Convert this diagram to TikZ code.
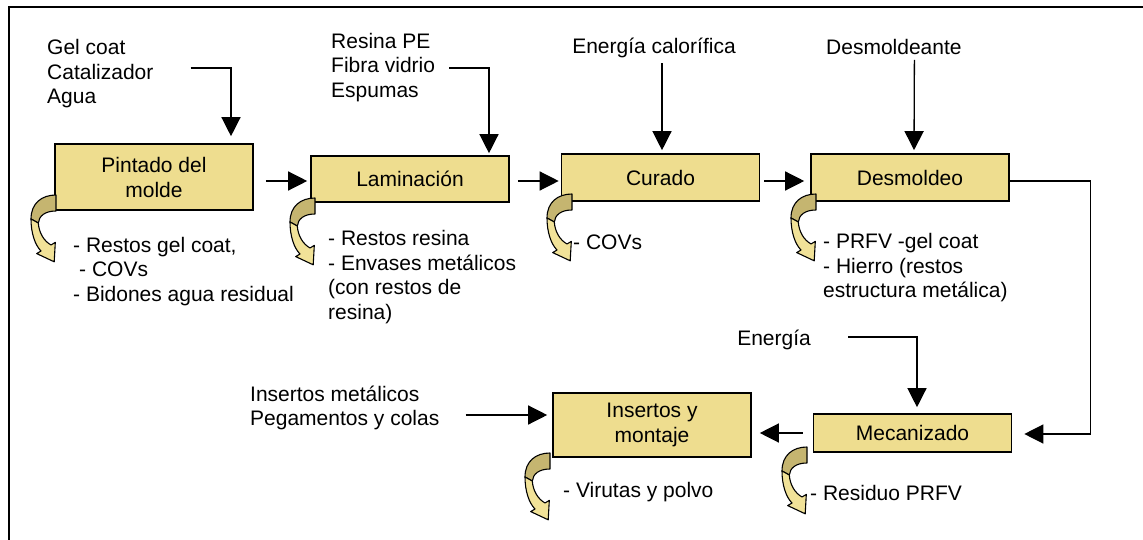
\documentclass[tikz,border=0pt]{standalone}
\usepackage{fontspec}
\setmainfont{Liberation Sans}
\usetikzlibrary{calc,arrows.meta}

\definecolor{boxfill}{RGB}{238,221,143}
\definecolor{ribbondark}{RGB}{197,181,112}
\definecolor{ribbonlight}{RGB}{241,226,152}

\tikzset{
	proceso/.style={draw, fill=boxfill, line width=1.6pt, minimum width=198pt, align=center, inner sep=0pt, font=\fontsize{21}{25}\selectfont},
	texto/.style={align=left, inner sep=0pt, font=\fontsize{21}{24.5}\selectfont},
	flecha/.style={line width=1.3pt, -{Triangle[length=19pt,width=19pt]}},
	residuo/.pic={
		\draw[fill=ribbondark, line width=1.1pt, line join=round] (0,0) .. controls (-14,0) and (-25,8) .. (-25,24) -- (-17.7,28) .. controls (-17,21) and (-11,16) .. (0,16) -- cycle;
		\draw[fill=ribbonlight, line width=1.1pt, line join=round] (-25,24) .. controls (-25,38) and (-21,50) .. (-15,56) -- (-19.3,58.6) -- (-1.8,66.8) -- (-0.7,47.4) -- (-5,50) .. controls (-12,46) and (-17,38) .. (-17.7,28) -- cycle;
	}
}

\begin{document}
\begin{tikzpicture}[x=1pt,y=-1pt]
			%%%%% START %%%%%
			\useasboundingbox (0,0) rectangle (1143,540);
			\draw[line width=2pt] (9,541) -- (9,6.7) -- (1144,6.7);
			
			% procesos
			\node[proceso, minimum height=66pt] (pintado) at (154,177) {Pintado del\\molde};
			\node[proceso, minimum height=46pt] (laminacion) at (410,179) {Laminación};
			\node[proceso, minimum height=47pt] (curado) at (660.5,177.5) {Curado};
			\node[proceso, minimum height=47pt] (desmoldeo) at (910,177.5) {Desmoldeo};
			\node[proceso, minimum height=38pt] (mecanizado) at (912.5,433) {Mecanizado};
			\node[proceso, minimum height=64pt] (insertos) at (652,425) {Insertos y\\montaje};
			
			% flujo principal
			\draw[flecha] ($(pintado.east)+(12,4)$) -- ($(laminacion.west)+(-3,2)$);
			\draw[flecha] ($(laminacion.east)+(8,2)$) -- ($(curado.west)+(-2,3.5)$);
			\draw[flecha] ($(curado.east)+(4,3.5)$) -- ($(desmoldeo.west)+(-6,3.5)$);
			\draw[flecha] ($(desmoldeo.east)+(0,3.5)$) -- ($(desmoldeo.east)+(81,3.5)$) |- ($(mecanizado.east)+(12,1)$);
			\draw[flecha] ($(mecanizado.west)+(-10,0)$) -- ($(insertos.east)+(8,8)$);
			
			% entradas
			\node[texto, anchor=west] (entpintado) at (47,74) {Gel coat\\Catalizador\\Agua};
			\draw[flecha] ($(entpintado.east)+(37,-6)$) -| ($(pintado.north)+(77,-7)$);
			
			\node[texto, anchor=west] (entlaminacion) at (331,67.5) {Resina PE\\Fibra vidrio\\Espumas};
			\draw[flecha] ($(entlaminacion.east)+(14,0.5)$) -| ($(laminacion.north)+(79,-2)$);
			
			\node[texto] (entcurado) at (654,48) {Energía calorífica};
			\draw[flecha] ($(entcurado.south)+(8,5)$) -- ($(curado.north)+(1.5,-3)$);
			
			\node[texto, anchor=west] (entdesmoldeo) at (826,47) {Desmoldeante};
			\draw[flecha] ($(entdesmoldeo.south)+(20.5,5)$) -- ($(desmoldeo.north)+(4,-3)$);
			
			\node[texto, anchor=east] (entmecanizado) at (811,340) {Energía};
			\draw[flecha] ($(entmecanizado.east)+(37,-3)$) -| ($(mecanizado.north)+(4.5,-6)$);
			
			\node[texto, anchor=west] (entinsertos) at (250,408) {Insertos metálicos\\Pegamentos y colas};
			\draw[flecha] ($(entinsertos.east)+(26,7)$) -- ($(insertos.west)+(-5,-10)$);
			
			% residuos
			\pic at (56,195) {residuo};
			\pic at (315,198) {residuo};
			\pic at (572,194) {residuo};
			\pic at (816,194) {residuo};
			\pic at (807,447) {residuo};
			\pic at (550,453) {residuo};
			
			\node[texto, anchor=west] (respintado) at (73,271.5) {- Restos gel coat,\\\hspace*{6pt}- COVs\\- Bidones agua residual};
			\node[texto, anchor=west] (reslaminacion) at (328,277) {- Restos resina\\- Envases metálicos\\(con restos de\\resina)};
			\node[texto, anchor=west] (rescurado) at (573,242) {- COVs};
			\node[texto, anchor=west] (resdesmoldeo) at (823,268) {- PRFV -gel coat\\- Hierro (restos\\estructura metálica)};
			\node[texto, anchor=west] (resmecanizado) at (810,493) {- Residuo PRFV};
			\node[texto, anchor=west] (resinsertos) at (563,492) {- Virutas y polvo};
			
			%%%%% END %%%%%
\end{tikzpicture}
\end{document}
